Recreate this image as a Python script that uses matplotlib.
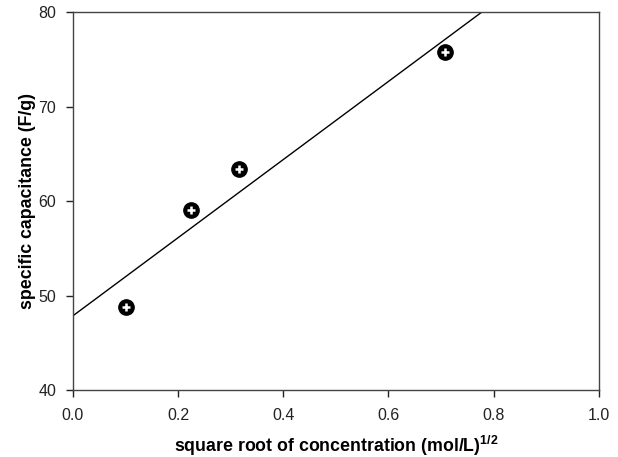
import numpy as np
import matplotlib
matplotlib.use('Agg')
import matplotlib.pyplot as plt

plt.rcParams['font.family'] = ['Liberation Sans', 'DejaVu Sans']
plt.rcParams['mathtext.fontset'] = 'custom'
plt.rcParams['mathtext.rm'] = 'Liberation Sans'
plt.rcParams['mathtext.bf'] = 'Liberation Sans:bold'

# sqrt of concentration vs capacitance
sqrt_conc = [0.1, 0.2236, 0.3162, 0.7071]
capacitance = [48.8, 59.1, 63.4, 75.8]

xticks = [0.0, 0.2, 0.4, 0.6, 0.8, 1.0]
yticks = [40, 50, 60, 70, 80]

# linear regression line
slope, intercept = np.polyfit(sqrt_conc, capacitance, 1)
xx = np.linspace(0, 1, 50)

fig = plt.figure(figsize=(6.18, 4.57), dpi=100)
ax = fig.add_axes([0.118, 0.1466, 0.851, 0.827])

ax.plot(xx, slope*xx + intercept, color='black', lw=1, zorder=2)
ax.plot(sqrt_conc, capacitance, 'o', ms=11, color='black', zorder=3)
ax.plot(sqrt_conc, capacitance, '+', ms=5.5, mew=1.8, color='white', zorder=4)

ax.set_xlim(0, 1)
ax.set_ylim(40, 80)
ax.set_xticks(xticks)
ax.set_xticklabels(['%.1f' % t for t in xticks])
ax.set_yticks(yticks)
ax.tick_params(direction='out', length=5, width=1, labelsize=11.5, colors='#222222')
ax.tick_params(axis='x', pad=8)
ax.tick_params(axis='y', pad=7)
ax.tick_params(top=False, right=False)
for s in ax.spines.values():
    s.set_color('#444444')
    s.set_linewidth(1)

ax.set_xlabel(r'square root of concentration (mol/L)$^{\mathbf{1/2}}$',
              fontsize=12.8, fontweight='bold', labelpad=8)
ax.set_ylabel('specific capacitance (F/g)', fontsize=12.8, fontweight='bold', labelpad=1.5)

fig.savefig('out.png', dpi=100)
